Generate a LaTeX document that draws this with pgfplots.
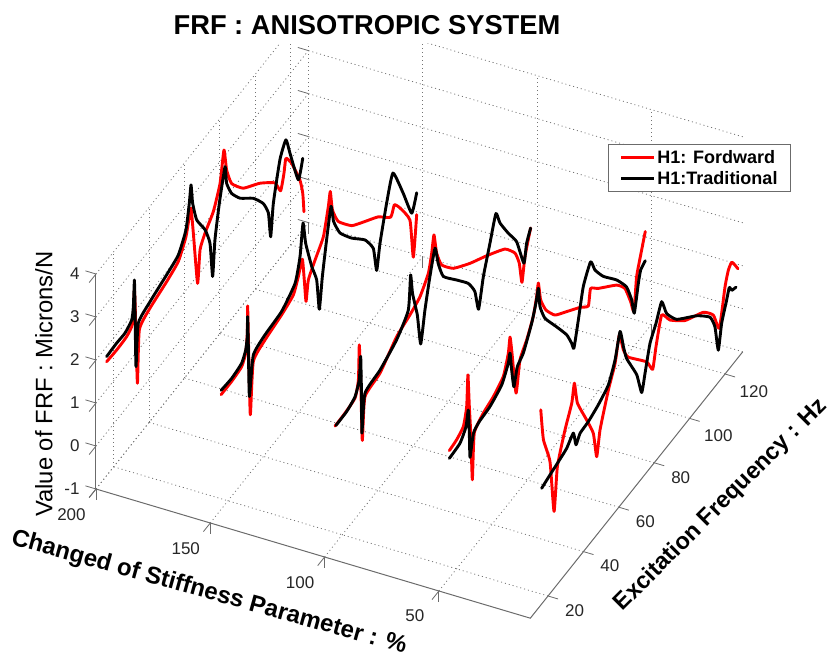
\documentclass[border=0pt]{standalone}
\usepackage{fontspec}
\setmainfont{Liberation Sans}
\usepackage{pgfplots}
\pgfplotsset{compat=1.18}
\definecolor{axgray}{gray}{0.42}
\pgfplotsset{
  rd/.style={color=red,line width=2.9pt,line join=round,line cap=round,no marks,smooth,tension=0.3},
  bk/.style={color=black,line width=2.9pt,line join=round,line cap=round,no marks,smooth,tension=0.3},
}
\begin{document}
\begin{tikzpicture}
\begin{axis}[
  x dir=reverse,
  x={(2.286pt,-0.68pt)}, y={(1.77pt,2.22pt)}, z={(0pt,43pt)},
  xmin=10,xmax=200,ymin=10,ymax=130,zmin=-1,zmax=4,
  xtick={50,100,150,200}, ytick={20,40,60,80,100,120}, ztick={-1,0,1,2,3,4},
  clip=false,
  grid=major,
  grid style={dash pattern=on 1pt off 3pt,black!55,line width=0.8pt},
  axis line style={draw=none},
  tick style={axgray,line width=0.8pt},
  ytick style={draw=none},
  tick align=outside,
  major tick length=11pt,
  xtick pos=left, ytick pos=left, ztick pos=left,
  /pgf/number format/assume math mode=true,
  tick label style={font=\fontsize{17}{20}\selectfont,color=black!85},
  xticklabel style={xshift=-13pt,yshift=-4pt},
  yticklabel style={xshift=6pt,yshift=2pt},
  zticklabel style={xshift=-6pt,yshift=12pt},
  title={\fontsize{27.3}{30}\selectfont\bfseries FRF : ANISOTROPIC SYSTEM},
  title style={at={([shift={(271pt,458pt)}]axis cs:200,10,-1)},anchor=center},
  xlabel={\fontsize{24}{28}\selectfont\bfseries Changed of Stiffness Parameter : \%},
  xlabel style={at={([shift={(113pt,-104pt)}]axis cs:200,10,-1)},anchor=center,rotate=-15.5},
  ylabel={\fontsize{23.5}{28}\selectfont\bfseries Excitation Frequency : Hz},
  ylabel style={at={([shift={(625pt,-16pt)}]axis cs:200,10,-1)},anchor=center,rotate=45},
  zlabel={\fontsize{23.8}{28}\selectfont Value of FRF : Microns/N},
  zlabel style={at={([shift={(-52pt,105pt)}]axis cs:200,10,-1)},anchor=center,rotate=0},
  legend style={at={([shift={(695pt,345pt)}]axis cs:200,10,-1)},anchor=north east,
    font=\fontsize{18}{20}\selectfont\bfseries,draw=axgray,line width=1pt,
    inner xsep=11pt,inner ysep=4pt,row sep=2pt,legend cell align=left},
  legend image code/.code={\draw[#1,line width=2.9pt] (0pt,0pt) -- (33pt,0pt);},
]
\addlegendimage{color=red}
\addlegendentry{H1: Fordward}
\addlegendimage{color=black}
\addlegendentry{H1:Traditional}
% x = 200
\addplot3[rd,forget plot] coordinates {(200,16.0,1.65)(200,21.7,1.63)(200,27.3,1.65)(200,30.7,1.78)(200,31.7,2.51)(200,32.2,2.02)(200,33.4,0.25)(200,34.5,1.44)(200,40.5,1.63)(200,49.9,1.76)(200,56.5,1.89)(200,60.8,2.24)(200,62.7,2.61)(200,63.7,2.76)(200,65.0,2.11)(200,67.4,0.82)(200,68.8,1.53)(200,71.6,1.77)(200,76.3,2.03)(200,80.1,2.49)(200,82.3,3.15)(200,83.8,2.61)(200,86.6,2.15)(200,93.2,1.70)(200,102.6,1.33)(200,111.1,0.90)(200,114.3,0.55)(200,116.2,0.86)(200,117.3,1.15)(200,120.5,0.87)(200,125.2,0.24)(200,126.8,-0.15)(200,127.5,-0.62)};
\addplot3[bk,forget plot] coordinates {(200,16.0,1.77)(200,21.7,1.79)(200,26.4,1.78)(200,30.2,1.89)(200,31.1,2.15)(200,31.7,2.74)(200,32.0,2.18)(200,32.6,0.68)(200,33.9,1.62)(200,40.5,1.78)(200,49.9,1.92)(200,56.5,2.04)(200,60.8,2.40)(200,62.7,2.92)(200,63.7,3.30)(200,64.6,2.83)(200,66.9,2.32)(200,71.6,1.85)(200,74.4,1.39)(200,75.9,0.54)(200,77.2,1.32)(200,79.7,2.05)(200,82.9,2.73)(200,83.8,2.30)(200,86.6,1.92)(200,91.4,1.56)(200,98.9,1.17)(200,104.5,0.76)(200,107.4,0.39)(200,108.7,-0.23)(200,110.2,0.47)(200,113.9,1.29)(200,117.3,1.58)(200,119.6,1.15)(200,124.3,0.29)(200,126.8,0.66)};
% x = 150
\addplot3[rd,forget plot] coordinates {(150,16.1,1.67)(150,22.1,1.67)(150,27.7,1.72)(150,30.0,1.92)(150,30.9,2.33)(150,31.1,2.96)(150,31.5,2.23)(150,32.6,0.35)(150,34.3,1.50)(150,40.9,1.66)(150,50.3,1.76)(150,56.9,1.88)(150,59.7,2.16)(150,62.0,2.45)(150,63.1,1.91)(150,64.1,1.36)(150,65.4,1.79)(150,69.2,2.06)(150,73.9,2.36)(150,76.7,2.92)(150,77.8,3.21)(150,79.0,2.72)(150,82.3,2.28)(150,89.9,1.79)(150,97.4,1.50)(150,104.9,1.22)(150,111.9,0.85)(150,114.0,1.03)(150,117.2,0.79)(150,122.8,0.22)(150,124.7,-0.74)(150,126.6,0.15)};
\addplot3[bk,forget plot] coordinates {(150,16.1,1.77)(150,22.1,1.74)(150,27.7,1.80)(150,30.0,1.99)(150,30.9,2.25)(150,31.1,2.71)(150,31.5,1.99)(150,32.1,0.80)(150,34.3,1.65)(150,40.9,1.78)(150,50.3,1.84)(150,57.9,2.10)(150,60.7,2.58)(150,62.4,3.27)(150,63.9,2.72)(150,67.3,2.01)(150,70.1,1.55)(150,71.6,0.79)(150,73.3,1.46)(150,75.7,2.19)(150,78.2,2.84)(150,79.7,2.41)(150,83.3,1.96)(150,89.9,1.50)(150,97.4,1.07)(150,102.1,0.63)(150,104.0,0.02)(150,105.9,0.56)(150,109.6,1.29)(150,113.2,1.81)(150,119.0,1.04)(150,123.8,0.33)(150,126.6,0.66)};
% x = 100
\addplot3[rd,forget plot] coordinates {(100,15.9,1.74)(100,21.5,1.75)(100,27.2,1.81)(100,29.1,2.13)(100,29.6,2.92)(100,30.4,2.07)(100,31.3,0.61)(100,32.8,1.55)(100,41.3,1.66)(100,50.7,2.02)(100,58.2,2.14)(100,63.9,2.27)(100,68.6,2.57)(100,70.5,2.94)(100,71.8,3.30)(100,73.3,2.80)(100,76.1,2.38)(100,82.7,1.96)(100,92.1,1.59)(100,101.5,1.28)(100,111.9,0.90)(100,117.6,0.51)(100,120.0,0.15)(100,121.5,-0.37)(100,123.2,0.14)(100,126.4,0.64)};
\addplot3[bk,forget plot] coordinates {(100,16.4,1.73)(100,22.5,1.74)(100,27.2,1.84)(100,29.6,2.11)(100,30.4,2.61)(100,30.9,1.57)(100,31.1,0.79)(100,32.8,1.63)(100,41.3,1.73)(100,50.7,1.95)(100,57.3,2.30)(100,58.6,3.05)(100,59.7,2.56)(100,62.4,1.92)(100,64.3,1.15)(100,66.7,1.82)(100,69.5,2.45)(100,72.4,2.96)(100,74.2,2.51)(100,77.1,2.06)(100,84.6,1.59)(100,91.2,1.17)(100,94.9,0.79)(100,97.0,0.27)(100,99.7,0.89)(100,103.4,1.47)(100,106.8,1.99)(100,109.1,1.65)(100,113.8,1.17)(100,118.5,0.73)(100,122.6,0.02)(100,124.1,0.40)(100,126.4,0.64)};
% x = 50
\addplot3[rd,forget plot] coordinates {(50,15.9,1.96)(50,20.0,2.00)(50,23.8,2.11)(50,25.7,2.48)(50,26.4,3.18)(50,27.2,2.40)(50,28.0,1.74)(50,28.9,0.61)(50,30.0,1.64)(50,35.1,1.84)(50,40.7,1.93)(50,46.4,2.11)(50,49.2,2.50)(50,50.2,2.83)(50,51.3,2.40)(50,53.6,1.35)(50,55.8,2.01)(50,59.6,2.28)(50,63.3,2.63)(50,65.2,2.99)(50,66.2,3.26)(50,67.5,2.80)(50,70.5,2.41)(50,75.6,2.03)(50,82.2,1.77)(50,89.7,1.48)(50,94.4,1.27)(50,95.7,1.61)(50,100.0,1.39)(50,110.4,0.93)(50,115.1,0.61)(50,118.3,0.14)(50,120.2,-0.19)(50,121.7,0.54)(50,124.2,0.96)(50,126.6,1.34)};
\addplot3[bk,forget plot] coordinates {(50,15.9,1.78)(50,21.9,1.82)(50,25.3,2.03)(50,26.6,2.35)(50,27.2,1.78)(50,27.6,1.20)(50,29.5,1.66)(50,32.8,1.76)(50,38.9,1.80)(50,45.5,1.96)(50,49.2,2.27)(50,50.2,2.46)(50,51.1,2.02)(50,52.4,1.56)(50,54.3,1.93)(50,57.7,2.07)(50,62.4,2.52)(50,64.8,2.86)(50,66.2,3.14)(50,67.1,2.67)(50,69.9,2.25)(50,76.5,1.71)(50,82.2,1.23)(50,85.0,0.89)(50,86.3,0.71)(50,88.8,1.24)(50,91.6,1.87)(50,95.7,2.23)(50,98.2,1.91)(50,102.9,1.52)(50,110.4,1.05)(50,116.0,0.60)(50,118.9,0.15)(50,120.4,-0.24)(50,122.7,0.34)(50,124.0,0.58)(50,126.6,0.66)};
% x = 10
\addplot3[rd,forget plot] coordinates {(10,15.9,3.54)(10,17.4,2.77)(10,21.1,2.07)(10,23.4,0.79)(10,25.3,1.74)(10,29.6,2.37)(10,33.4,2.79)(10,34.9,3.18)(10,36.6,2.63)(10,41.8,1.97)(10,45.6,1.46)(10,47.5,0.82)(10,49.4,1.35)(10,54.1,2.03)(10,57.9,2.46)(10,60.3,2.99)(10,62.6,2.52)(10,65.4,2.21)(10,75.7,1.57)(10,79.1,1.22)(10,81.0,1.65)(10,84.2,2.22)(10,88.9,1.86)(10,97.4,1.41)(10,107.7,1.07)(10,113.4,0.71)(10,116.8,0.23)(10,120.0,1.03)(10,121.9,1.32)(10,123.9,1.40)(10,127.3,1.07)};
\addplot3[bk,forget plot] coordinates {(10,16.4,1.69)(10,21.1,1.76)(10,25.8,1.82)(10,30.5,1.89)(10,34.3,2.05)(10,35.8,1.70)(10,38.1,1.85)(10,42.8,1.88)(10,48.4,1.98)(10,54.1,2.15)(10,57.9,2.54)(10,60.7,3.05)(10,62.6,2.60)(10,64.4,2.23)(10,70.1,1.56)(10,72.9,1.00)(10,74.8,1.35)(10,77.6,1.90)(10,81.0,2.19)(10,84.2,2.53)(10,87.0,2.11)(10,92.7,1.68)(10,104.0,1.18)(10,111.5,0.76)(10,114.3,0.39)(10,116.2,-0.25)(10,118.1,0.28)(10,120.9,0.67)(10,122.4,0.89)(10,123.8,0.75)(10,126.2,0.70)};
% axis lines
\draw[axgray,line width=1pt] (axis cs:200,10,-1) -- (axis cs:10,10,-1) -- (axis cs:10,130,-1);
\draw[axgray,line width=1pt] (axis cs:200,10,-1) -- (axis cs:200,10,4);
% frequency ticks on the front edge
\draw[axgray,line width=0.8pt] (axis cs:10,20,-1) -- (axis cs:5.6,20,-1);
\draw[axgray,line width=0.8pt] (axis cs:10,40,-1) -- (axis cs:5.6,40,-1);
\draw[axgray,line width=0.8pt] (axis cs:10,60,-1) -- (axis cs:5.6,60,-1);
\draw[axgray,line width=0.8pt] (axis cs:10,80,-1) -- (axis cs:5.6,80,-1);
\draw[axgray,line width=0.8pt] (axis cs:10,100,-1) -- (axis cs:5.6,100,-1);
\draw[axgray,line width=0.8pt] (axis cs:10,120,-1) -- (axis cs:5.6,120,-1);
% the white band above the walls, as in the reference
\fill[white] ([shift={(40pt,446pt)}]axis cs:200,10,-1) rectangle ([shift={(680pt,489pt)}]axis cs:200,10,-1);
\coordinate (BL) at ([shift={(-96pt,-166pt)}]axis cs:200,10,-1);
\coordinate (TR) at ([shift={(735pt,489pt)}]axis cs:200,10,-1);
\end{axis}
\pgfresetboundingbox
\path[use as bounding box] (BL) rectangle (TR);
\end{tikzpicture}
\end{document}
